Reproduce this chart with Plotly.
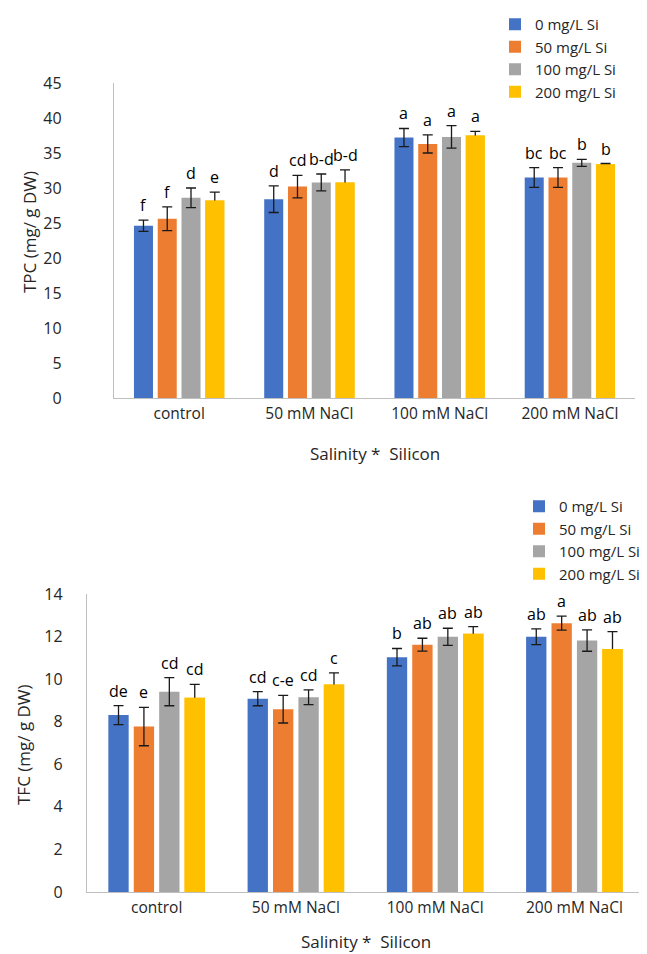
import plotly.graph_objects as go

# ---------------- data ----------------
categories = ["control", "50 mM NaCl", "100 mM NaCl", "200 mM NaCl"]
series_names = ["0 mg/L Si", "50 mg/L Si", "100 mg/L Si", "200 mg/L Si"]
colors = ["#4472C4", "#ED7D31", "#A5A5A5", "#FFC000"]

# TPC (mg/ g DW)
tpc_si0 = [24.6, 28.4, 37.2, 31.5]
tpc_si50 = [25.6, 30.2, 36.3, 31.5]
tpc_si100 = [28.6, 30.8, 37.3, 33.6]
tpc_si200 = [28.2, 30.8, 37.5, 33.4]
tpc_err_si0 = [0.8, 1.9, 1.3, 1.4]
tpc_err_si50 = [1.7, 1.6, 1.3, 1.4]
tpc_err_si100 = [1.4, 1.2, 1.6, 0.5]
tpc_err_si200 = [1.2, 1.8, 0.6, 0.1]
tpc_let_si0 = ["f", "d", "a", "bc"]
tpc_let_si50 = ["f", "cd", "a", "bc"]
tpc_let_si100 = ["d", "b-d", "a", "b"]
tpc_let_si200 = ["e", "b-d", "a", "b"]

# TFC (mg/ g DW)
tfc_si0 = [8.31, 9.08, 11.03, 11.99]
tfc_si50 = [7.77, 8.59, 11.62, 12.63]
tfc_si100 = [9.41, 9.15, 11.99, 11.81]
tfc_si200 = [9.13, 9.75, 12.13, 11.42]
tfc_err_si0 = [0.45, 0.33, 0.41, 0.37]
tfc_err_si50 = [0.90, 0.65, 0.30, 0.33]
tfc_err_si100 = [0.66, 0.35, 0.40, 0.50]
tfc_err_si200 = [0.62, 0.54, 0.34, 0.81]
tfc_let_si0 = ["de", "cd", "b", "ab"]
tfc_let_si50 = ["e", "c-e", "ab", "a"]
tfc_let_si100 = ["cd", "cd", "ab", "ab"]
tfc_let_si200 = ["cd", "c", "ab", "ab"]

# ---------------- layout constants ----------------
W, H = 647, 954
FONT = "Open Sans"
TXT = "#262626"
AXC = "#BFBFBF"
BARGAP = 0.27
GROUPGAP = 0.2

panels = [
    dict(xa="x", ya="y", vals=[tpc_si0, tpc_si50, tpc_si100, tpc_si200],
         errs=[tpc_err_si0, tpc_err_si50, tpc_err_si100, tpc_err_si200],
         lets=[tpc_let_si0, tpc_let_si50, tpc_let_si100, tpc_let_si200],
         px=(106, 627), py=(75, 390), yrange=[0, 45], dtick=5,
         ystand=48, ytitle="TPC (mg/ g DW)", ytitle_xy=(22, 224),
         xtitle_y=445, legend="legend"),
    dict(xa="x2", ya="y2", vals=[tfc_si0, tfc_si50, tfc_si100, tfc_si200],
         errs=[tfc_err_si0, tfc_err_si50, tfc_err_si100, tfc_err_si200],
         lets=[tfc_let_si0, tfc_let_si50, tfc_let_si100, tfc_let_si200],
         px=(79, 636), py=(586, 884), yrange=[0, 14], dtick=2,
         ystand=20, ytitle="TFC (mg/ g DW)", ytitle_xy=(15, 737),
         xtitle_y=933, legend="legend2"),
]

fig = go.Figure()
annotations = []

for p in panels:
    for i in range(4):
        fig.add_trace(go.Bar(
            x=categories, y=p["vals"][i], name=series_names[i],
            marker=dict(color=colors[i], line=dict(width=0)),
            error_y=dict(type="data", array=p["errs"][i], visible=True,
                         color="#1a1a1a", thickness=1.3, width=5),
            offsetgroup=str(i), xaxis=p["xa"], yaxis=p["ya"],
            legend=p["legend"], hoverinfo="skip",
        ))
    # the 200 mg/L bars show only the upper whisker: redraw bar on top
    fig.add_trace(go.Bar(
        x=categories, y=p["vals"][3], name=series_names[3],
        marker=dict(color=colors[3], line=dict(width=0)),
        offsetgroup="3", xaxis=p["xa"], yaxis=p["ya"],
        showlegend=False, legend=p["legend"], hoverinfo="skip",
    ))

    # letters above error bars
    cat_px = (p["px"][1] - p["px"][0]) / len(categories)
    slot_px = cat_px * (1 - BARGAP) / 4
    for i in range(4):
        for j, c in enumerate(categories):
            annotations.append(dict(
                x=c, y=p["vals"][i][j] + p["errs"][i][j],
                xref=p["xa"], yref=p["ya"],
                text=p["lets"][i][j], showarrow=False,
                xanchor="center", yanchor="bottom",
                xshift=(i - 1.5) * slot_px, yshift=2,
                font=dict(family=FONT, size=16, color="#000000"),
            ))
    # axis titles
    annotations.append(dict(
        x=p["ytitle_xy"][0] / W, y=1 - p["ytitle_xy"][1] / H,
        xref="paper", yref="paper", text=p["ytitle"], textangle=-90,
        showarrow=False, xanchor="center", yanchor="middle",
        font=dict(family=FONT, size=17, color=TXT),
    ))
    annotations.append(dict(
        x=(p["px"][0] + p["px"][1]) / 2 / W, y=1 - p["xtitle_y"] / H,
        xref="paper", yref="paper", text="Salinity *  Silicon",
        showarrow=False, xanchor="center", yanchor="middle",
        font=dict(family=FONT, size=17, color=TXT),
    ))


def xaxis(p):
    return dict(domain=[p["px"][0] / W, p["px"][1] / W],
                type="category", showline=True, linecolor=AXC, linewidth=1.3,
                ticks="", showgrid=False, zeroline=False, automargin=False,
                ticklabelstandoff=1,
                tickfont=dict(family=FONT, size=15.5, color=TXT))


def yaxis(p):
    return dict(domain=[1 - p["py"][1] / H, 1 - p["py"][0] / H],
                range=p["yrange"], dtick=p["dtick"], tick0=0,
                showline=True, linecolor=AXC, linewidth=1.3, ticks="",
                showgrid=False, zeroline=False, automargin=False,
                ticklabelstandoff=p["ystand"],
                tickfont=dict(family=FONT, size=16, color=TXT))


xa1 = xaxis(panels[0]); xa1["anchor"] = "y"
ya1 = yaxis(panels[0]); ya1["anchor"] = "x"
xa2 = xaxis(panels[1]); xa2["anchor"] = "y2"
ya2 = yaxis(panels[1]); ya2["anchor"] = "x2"

legend_style = dict(font=dict(family=FONT, size=15, color=TXT),
                    bgcolor="rgba(0,0,0,0)", borderwidth=0,
                    tracegroupgap=0, itemwidth=30, xanchor="left", yanchor="top")

fig.update_layout(
    template="none",
    width=W, height=H,
    margin=dict(l=0, r=0, t=0, b=0),
    paper_bgcolor="white", plot_bgcolor="white",
    barmode="group", bargap=BARGAP, bargroupgap=GROUPGAP,
    xaxis=xa1, yaxis=ya1, xaxis2=xa2, yaxis2=ya2,
    legend=dict(x=487 / W, y=1, **legend_style),
    legend2=dict(x=511 / W, y=1 - 482 / H, **legend_style),
    annotations=annotations,
    showlegend=True,
)

fig.write_html("out.html")
